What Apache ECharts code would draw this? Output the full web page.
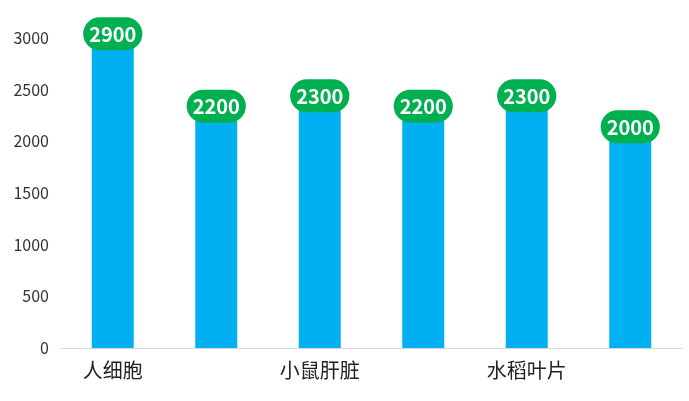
<!DOCTYPE html>
<html>
<head>
<meta charset="utf-8">
<script src="https://cdn.jsdelivr.net/npm/echarts@6/dist/echarts.min.js"></script>
<style>html,body{margin:0;padding:0;background:#fff}</style>
</head>
<body>
<div id="main" style="width:689px;height:401px"></div>
<script>
// 样本类别与数值
var categories = ['人细胞', '人血清', '小鼠肝脏', '小鼠脑', '水稻叶片', '拟南芥'];
var values = [2900, 2200, 2300, 2200, 2300, 2000];
var yTicks = [0, 500, 1000, 1500, 2000, 2500, 3000];

var myChart = echarts.init(document.getElementById('main'));
var option = {
    animation: false,
    grid: { left: 61, right: 7, top: 38, bottom: 53 },
    xAxis: {
        type: 'category',
        data: categories,
        axisTick: { show: false },
        axisLine: { lineStyle: { color: '#d9d9d9' } },
        axisLabel: { color: '#222', fontSize: 20, margin: 12, fontFamily: 'Noto Sans CJK SC' }
    },
    yAxis: {
        type: 'value',
        min: yTicks[0],
        max: yTicks[yTicks.length - 1],
        interval: 500,
        splitLine: { show: false },
        axisLabel: {
            color: '#333', fontSize: 16, margin: 12, fontFamily: 'Noto Sans CJK SC',
            formatter: function (v) { return String(v); }
        }
    },
    series: [{
        type: 'bar',
        data: values,
        barWidth: 42,
        itemStyle: { color: '#00b0f0' },
        label: {
            show: true,
            position: 'top',
            distance: -2,
            color: '#fff',
            fontSize: 20,
            fontWeight: 'bold',
            fontFamily: 'Noto Sans CJK SC',
            backgroundColor: '#00b050',
            borderRadius: 30,
            padding: [7, 6, 6, 6]
        }
    }]
};
myChart.setOption(option, true);
</script>
</body>
</html>
